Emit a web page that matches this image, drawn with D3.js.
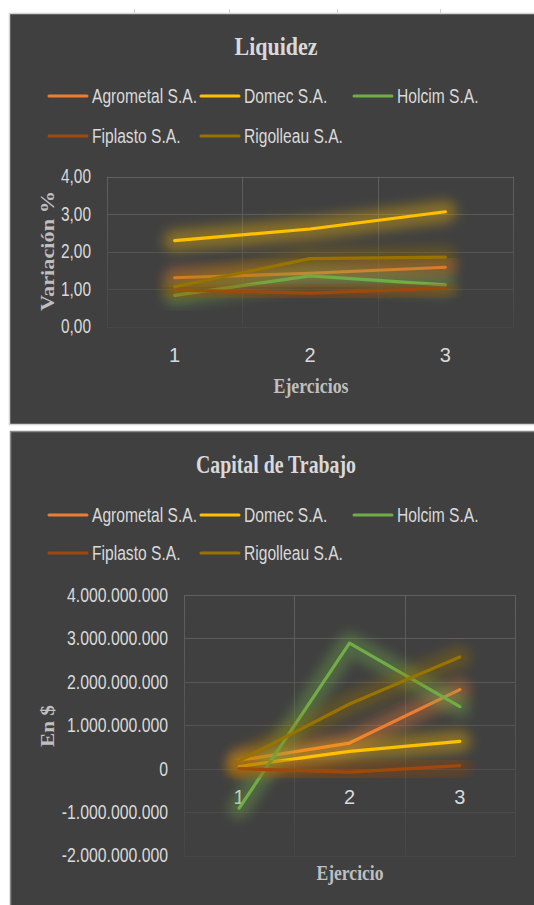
<!DOCTYPE html>
<html>
<head>
<meta charset="utf-8">
<script src="https://cdn.jsdelivr.net/npm/d3@7"></script>
<style>
  html, body { margin: 0; padding: 0; background: #ffffff; }
  svg { display: block; }
</style>
</head>
<body>
<svg id="chart" width="534" height="905"></svg>
<script>
// ---------- DATA ----------
const ejercicios = ["1", "2", "3"];
const empresas = ["Agrometal S.A.", "Domec S.A.", "Holcim S.A.", "Fiplasto S.A.", "Rigolleau S.A."];
const colores = ["#ED7D31", "#FFC000", "#70AD47", "#9E480E", "#997300"];

// Liquidez (ratio)
const liqAgrometal = [1.30, 1.42, 1.58];
const liqDomec     = [2.29, 2.60, 3.06];
const liqHolcim    = [0.83, 1.35, 1.11];
const liqFiplasto  = [0.97, 0.89, 1.02];
const liqRigolleau = [1.06, 1.81, 1.85];
const liqTicks = [0, 1, 2, 3, 4];

// Capital de trabajo (en $)
const capAgrometal = [190000000, 590000000, 1820000000];
const capDomec     = [50000000, 400000000, 630000000];
const capHolcim    = [-910000000, 2890000000, 1430000000];
const capFiplasto  = [0, -80000000, 70000000];
const capRigolleau = [180000000, 1490000000, 2570000000];
const capTicks = [-2000000000, -1000000000, 0, 1000000000, 2000000000, 3000000000, 4000000000];

// ---------- HELPERS ----------
const es = d3.formatLocale({decimal: ",", thousands: ".", grouping: [3], currency: ["$", ""], minus: "-"});
const fmtLiq = es.format(".2f");
const fmtCap = es.format(",.0f");

const svg = d3.select("#chart");
const defs = svg.append("defs");
defs.append("filter").attr("id", "glow")
  .attr("x", "-30%").attr("y", "-80%").attr("width", "160%").attr("height", "260%")
  .append("feGaussianBlur").attr("stdDeviation", 6);

const gridGrad = defs.append("linearGradient").attr("id", "gridFade")
  .attr("x1", 0).attr("y1", 0).attr("x2", 0).attr("y2", 1);
gridGrad.append("stop").attr("offset", "0%").attr("stop-color", "#606060");
gridGrad.append("stop").attr("offset", "100%").attr("stop-color", "#464646");

const SANS = "'Liberation Sans Narrow', 'Arial Narrow', 'Liberation Sans', sans-serif";
const SERIF = "'Liberation Serif', 'Times New Roman', serif";

// squeeze/stretch a group of texts so a reference string takes the target width
function fitTexts(sel, refWidthNatural, targetW) {
  const k = targetW / refWidthNatural;
  sel.each(function () {
    const w = this.getComputedTextLength();
    d3.select(this).attr("textLength", w * k).attr("lengthAdjust", "spacingAndGlyphs");
  });
}
function naturalWidth(str, family, size, weight) {
  const t = svg.append("text").attr("font-family", family).attr("font-size", size)
    .attr("font-weight", weight || "normal").text(str);
  const w = t.node().getComputedTextLength();
  t.remove();
  return w;
}

// small marks above the first panel
svg.append("g").selectAll("line").data([134, 229, 337, 440]).join("line")
  .attr("x1", d => d + 0.5).attr("x2", d => d + 0.5).attr("y1", 9).attr("y2", 13)
  .attr("stroke", "#d0d0d0").attr("stroke-width", 1);

function drawChart(cfg) {
  const g = svg.append("g");
  // panel
  g.append("rect")
    .attr("x", cfg.panel.x).attr("y", cfg.panel.y)
    .attr("width", cfg.panel.w).attr("height", cfg.panel.h)
    .attr("fill", "#404040").attr("stroke", cfg.panel.stroke).attr("stroke-width", 1.5);

  // title
  const title = g.append("text").attr("x", 276).attr("y", cfg.titleY)
    .attr("text-anchor", "middle").attr("fill", "#d9d9d9")
    .attr("font-family", SERIF).attr("font-weight", "bold").attr("font-size", 26)
    .text(cfg.title);
  fitTexts(title, title.node().getComputedTextLength(), cfg.titleW);

  // legend
  const leg = g.append("g");
  const legPos = [
    {x: 48, row: 0}, {x: 200, row: 0}, {x: 353, row: 0},
    {x: 48, row: 1}, {x: 200, row: 1}
  ];
  empresas.forEach((name, i) => {
    const p = legPos[i];
    const y = cfg.legendY[p.row];
    leg.append("line").attr("x1", p.x + 1).attr("x2", p.x + 39)
      .attr("y1", y).attr("y2", y)
      .attr("stroke", colores[i]).attr("stroke-width", 3).attr("stroke-linecap", "round");
    leg.append("text").attr("x", p.x + 44).attr("y", y).attr("dy", "0.36em")
      .attr("fill", "#d9d9d9").attr("font-family", SANS).attr("font-size", 20)
      .text(name);
  });
  fitTexts(leg.selectAll("text"), naturalWidth("Agrometal S.A.", SANS, 20), 105);

  const x = d3.scaleBand().domain(ejercicios).range(cfg.xRange);
  const y = d3.scaleLinear().domain(cfg.yDomain).range(cfg.yRange);

  // gridlines
  const grid = g.append("g");
  grid.selectAll("line.h").data(cfg.ticks).join("line").attr("class", "h")
    .attr("x1", cfg.xRange[0]).attr("x2", cfg.xRange[1])
    .attr("y1", d => Math.round(y(d)) + 0.5).attr("y2", d => Math.round(y(d)) + 0.5)
    .attr("stroke", d => d3.interpolateRgb("#606060", "#474747")((y(d) - cfg.yRange[1]) / (cfg.yRange[0] - cfg.yRange[1])))
    .attr("stroke-width", 1);
  const edges = ejercicios.map(c => x(c)).concat([x(ejercicios[ejercicios.length - 1]) + x.bandwidth()]);
  grid.selectAll("line.v").data(edges).join("line").attr("class", "v")
    .attr("x1", d => Math.round(d) + 0.5).attr("x2", d => Math.round(d) + 0.5 + 0.001)
    .attr("y1", cfg.yRange[1]).attr("y2", cfg.yRange[0])
    .attr("stroke", "url(#gridFade)").attr("stroke-width", 1);

  // y axis labels
  const yAxis = d3.axisLeft(y).tickValues(cfg.ticks).tickFormat(cfg.fmt).tickSize(0).tickPadding(0);
  const ya = g.append("g").attr("transform", `translate(${cfg.yLabelX},0)`).call(yAxis);
  ya.select(".domain").remove();
  ya.selectAll("text").attr("fill", "#d9d9d9").attr("font-family", SANS).attr("font-size", 20);
  fitTexts(ya.selectAll("text"), naturalWidth(cfg.fmt(cfg.yDomain[1]), SANS, 20), cfg.yLabelW);

  // x axis labels
  const xAxis = d3.axisBottom(x).tickSize(0).tickPadding(0);
  const xa = g.append("g").attr("transform", `translate(0,${cfg.xLabelY})`).call(xAxis);
  xa.select(".domain").remove();
  xa.selectAll("text").attr("fill", "#d9d9d9").attr("font-family", SANS).attr("font-size", 20)
    .attr("dy", "0.36em");

  // axis titles
  const xt = g.append("text").attr("x", cfg.xTitle.x).attr("y", cfg.xTitle.y)
    .attr("text-anchor", "middle").attr("fill", "#bfbfbf")
    .attr("font-family", SERIF).attr("font-weight", "bold").attr("font-size", 20)
    .text(cfg.xTitle.text);
  fitTexts(xt, xt.node().getComputedTextLength(), cfg.xTitle.w);
  const yt = g.append("text")
    .attr("transform", `translate(${cfg.yTitle.x},${cfg.yTitle.y}) scale(0.85,1) rotate(-90)`)
    .attr("text-anchor", "middle").attr("fill", "#bfbfbf")
    .attr("font-family", SERIF).attr("font-weight", "bold").attr("font-size", 23)
    .text(cfg.yTitle.text);
  fitTexts(yt, yt.node().getComputedTextLength(), cfg.yTitle.w);

  // series
  const line = d3.line()
    .x((d, i) => x(ejercicios[i]) + x.bandwidth() / 2)
    .y(d => y(d));
  const sg = g.append("g");
  cfg.series.forEach((vals, i) => {
    sg.append("path").attr("d", line(vals)).attr("fill", "none")
      .attr("stroke", colores[i]).attr("stroke-width", 22).attr("stroke-opacity", 0.36)
      .attr("stroke-linecap", "round").attr("stroke-linejoin", "round")
      .attr("filter", "url(#glow)");
    sg.append("path").attr("d", line(vals)).attr("fill", "none")
      .attr("stroke", colores[i]).attr("stroke-width", 3.2)
      .attr("stroke-linecap", "round").attr("stroke-linejoin", "round");
  });
}

drawChart({
  panel: {x: 9.5, y: 13.5, w: 540, h: 411, stroke: "#d4d4d4"},
  title: "Liquidez", titleY: 55, titleW: 83,
  legendY: [96, 136],
  xRange: [107, 513], yDomain: [0, 4], yRange: [326.5, 176.5],
  ticks: liqTicks, fmt: fmtLiq,
  yLabelX: 91, yLabelW: 30, xLabelY: 355,
  xTitle: {x: 311, y: 393, w: 75, text: "Ejercicios"},
  yTitle: {x: 54, y: 251, w: 120, text: "Variación %"},
  series: [liqAgrometal, liqDomec, liqHolcim, liqFiplasto, liqRigolleau]
});

drawChart({
  panel: {x: 10.5, y: 431.5, w: 540, h: 480, stroke: "#8a8a8a"},
  title: "Capital de Trabajo", titleY: 473, titleW: 160,
  legendY: [515, 553],
  xRange: [184, 515], yDomain: [-2000000000, 4000000000], yRange: [855.5, 595],
  ticks: capTicks, fmt: fmtCap,
  yLabelX: 168, yLabelW: 101, xLabelY: 797,
  xTitle: {x: 350, y: 880, w: 67, text: "Ejercicio"},
  yTitle: {x: 54, y: 726, w: 42, text: "En $"},
  series: [capAgrometal, capDomec, capHolcim, capFiplasto, capRigolleau]
});
</script>
</body>
</html>
